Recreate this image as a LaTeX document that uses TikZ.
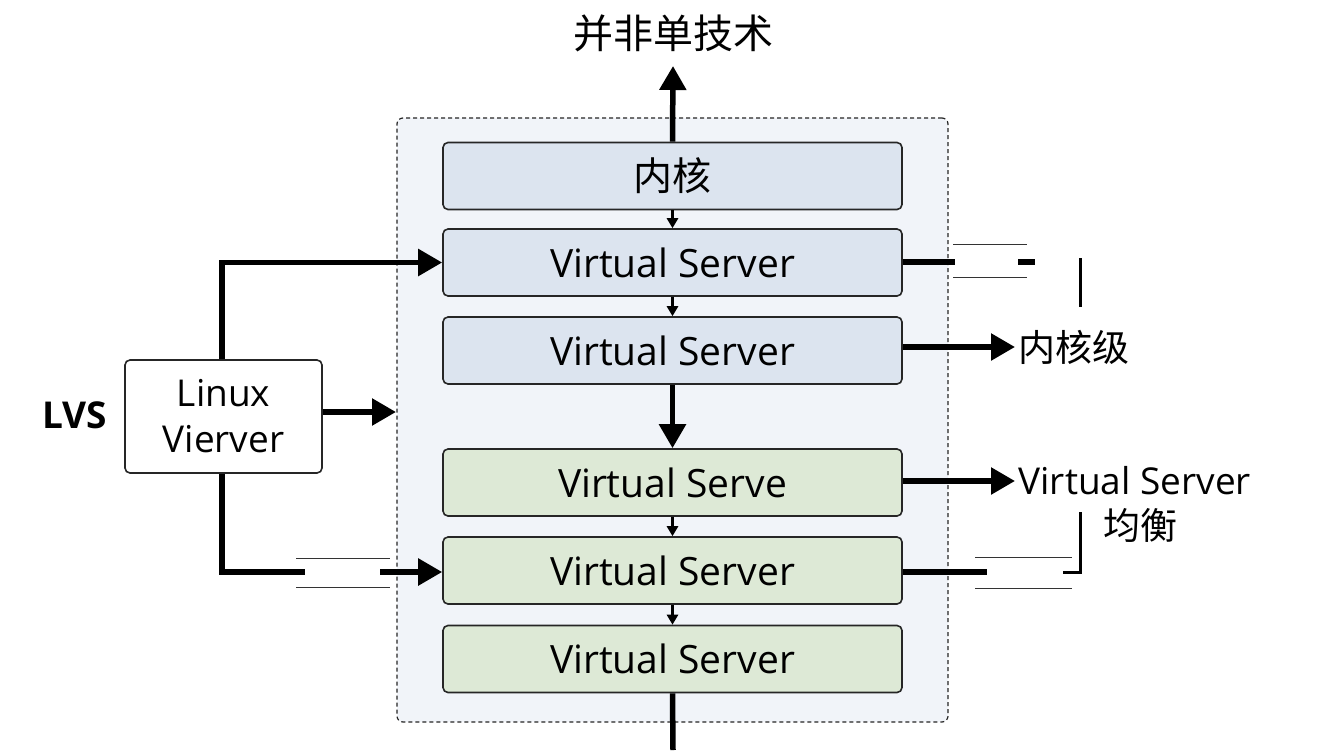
\documentclass[tikz,border=0pt]{standalone}
\usepackage{fontspec}
\setmainfont{Open Sans}
\newfontfamily\cjk{Noto Sans CJK SC}
\usetikzlibrary{arrows.meta}
\definecolor{blueF}{HTML}{DCE4EF}
\definecolor{greenF}{HTML}{DDE9D6}
\definecolor{contF}{HTML}{F1F4F9}
\begin{document}
\begin{tikzpicture}[x=1pt,y=-1pt,
  box/.style={draw=black!85,line width=1.6pt,rounded corners=5pt,minimum width=459pt,minimum height=67pt,font=\fontsize{39}{42}\selectfont},
  thick arr/.style={line width=5.5pt,-{Triangle[length=24pt,width=26pt]}},
  small arr/.style={line width=2.5pt,-{Triangle[length=10pt,width=11pt]}},
  bar/.style={line width=5.5pt},
  thin/.style={line width=1pt,black!80}]
\useasboundingbox[fill=white] (0,0) rectangle (1344,750);
\node[draw=black!85,dash pattern=on 4pt off 3pt,line width=1.2pt,fill=contF,rounded corners=6pt,minimum width=551pt,minimum height=604pt] (cont) at (672.5,420) {};
\node[box,fill=blueF] (k) at (672.5,176) {\cjk 内核};
\node[box,fill=blueF] (v1) at (672.5,262.5) {Virtual Server};
\node[box,fill=blueF] (v2) at (672.5,350.5) {Virtual Server};
\node[box,fill=greenF] (g1) at (672.5,482.5) {Virtual Serve};
\node[box,fill=greenF] (g2) at (672.5,570.5) {Virtual Server};
\node[box,fill=greenF] (g3) at (672.5,659) {Virtual Server};
\node[font=\cjk\fontsize{40}{42}\selectfont] (title) at (673,33) {并非单技术};
\draw[thick arr] (k.north) -- (673,66);
\coordinate (bot) at (673,750);
\draw[bar] (g3.south) -- (bot);
\draw[small arr] (k) -- (v1);
\draw[small arr] (v1) -- (v2);
\draw[thick arr] (v2) -- (g1);
\draw[small arr] (g1) -- (g2);
\draw[small arr] (g2) -- (g3);
\node[draw=black!85,line width=1.6pt,rounded corners=5pt,fill=white,minimum width=197pt,minimum height=113pt,align=center,font=\fontsize{37}{46}\selectfont] (lin) at (223.5,416.5) {Linux\\Vierver};
\node[font=\bfseries\fontsize{37}{40}\selectfont] (lvs) at (75,415) {LVS};
\coordinate (c1) at (396,412);
\draw[thick arr] (lin.east |- c1) -- (c1);
\draw[thick arr] (lin.north -| 222,0) |- (v1.west);
\coordinate (c2) at (305,572);
\draw[bar] (lin.south -| 222,0) |- (c2);
\coordinate (c3) at (380,572);
\draw[thick arr] (c3) -- (g2.west |- c3);
\draw[thin] (296,558) -- (390,558) (296,587) -- (390,587);
% right side
\coordinate (r1) at (955,262);
\draw[bar] (v1.east |- r1) -- (r1);
\draw[bar] (1018,262) -- (1035,262);
\draw[thin] (953,244) -- (1027,244) (953,277) -- (1027,277);
\draw[line width=3pt] (1080,258) -- (1080,307);
\node[font=\cjk\fontsize{37}{40}\selectfont,anchor=west] (kl) at (1015,347) {内核级};
\draw[thick arr] (v2.east |- kl.west) -- (kl.west);
\node[font=\fontsize{37}{40}\selectfont,anchor=west] (vs) at (1015,481) {Virtual Server};
\node[font=\cjk\fontsize{37}{40}\selectfont] (jh) at (1140,525) {均衡};
\draw[thick arr] (g1.east |- vs.west) -- (vs.west);
\coordinate (r2) at (987,572);
\draw[bar] (g2.east |- r2) -- (r2);
\draw[line width=3pt] (1063,572) -- (1080,572) -- (1080,512);
\draw[thin] (975,557) -- (1072,557) (975,588) -- (1072,588);
\end{tikzpicture}
\end{document}
